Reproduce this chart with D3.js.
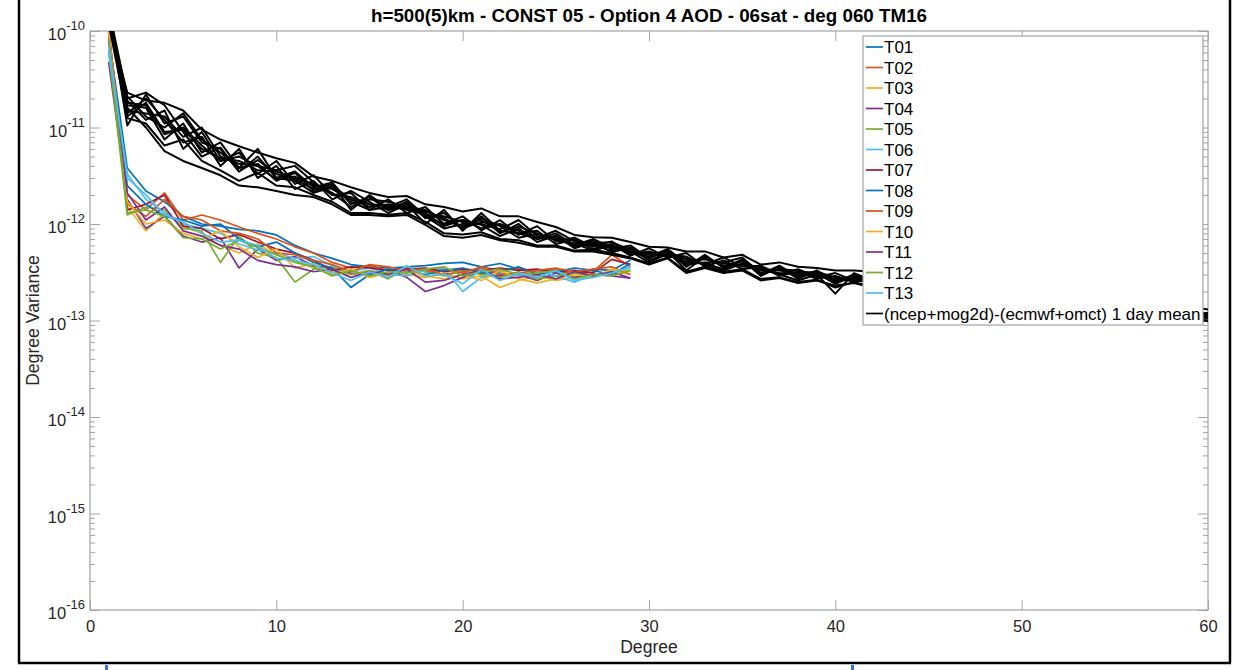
<!DOCTYPE html>
<html><head><meta charset="utf-8">
<script src="https://cdn.jsdelivr.net/npm/d3@7"></script>
<style>
html,body{margin:0;padding:0;background:#fff;}
svg{display:block;font-family:"Liberation Sans",Arial,Helvetica,sans-serif;}
</style></head><body>
<svg id="chart" width="1256" height="670"></svg>
<script>
// ---------------- DATA ----------------
const titleText = "h=500(5)km - CONST 05 - Option 4 AOD - 06sat - deg 060 TM16";
const xLabel = "Degree";
const yLabel = "Degree Variance";
const xTickValues = [0, 10, 20, 30, 40, 50, 60];
const yTickValues = [1e-16, 1e-15, 1e-14, 1e-13, 1e-12, 1e-11, 1e-10];
const yTickExponents = ["-16", "-15", "-14", "-13", "-12", "-11", "-10"];
const legendLabels = ["T01","T02","T03","T04","T05","T06","T07","T08","T09","T10","T11","T12","T13","(ncep+mog2d)-(ecmwf+omct) 1 day mean"];
const seriesColors = ["#0072BD","#D95319","#EDB120","#7E2F8E","#77AC30","#4DBEEE","#A2142F","#0072BD","#D95319","#EDB120","#7E2F8E","#77AC30","#4DBEEE"];
const meanColor = "#000000";

// Degree variances, degrees 1..29 (T series)
const T01 = [900e-13,38e-13,22e-13,17e-13,12e-13,10e-13,9.5e-13,8.8e-13,8.5e-13,7.7e-13,6.0e-13,5.0e-13,4.4e-13,3.8e-13,3.6e-13,3.5e-13,3.6e-13,3.7e-13,3.9e-13,4.0e-13,3.6e-13,3.9e-13,3.4e-13,3.2e-13,3.3e-13,3.0e-13,3.4e-13,3.3e-13,4.2e-13];
const T02 = [1050e-13,20e-13,14e-13,21e-13,11e-13,12.4e-13,11e-13,9.3e-13,8.0e-13,7.0e-13,5.8e-13,5.0e-13,4.0e-13,3.5e-13,3.7e-13,3.3e-13,3.5e-13,3.2e-13,3.4e-13,3.1e-13,3.6e-13,3.3e-13,3.5e-13,3.2e-13,3.4e-13,3.0e-13,3.2e-13,4.8e-13,3.6e-13];
const T03 = [1000e-13,15e-13,8.5e-13,13e-13,9.5e-13,8.0e-13,6.0e-13,5.0e-13,6.2e-13,4.8e-13,4.2e-13,3.5e-13,3.2e-13,3.0e-13,3.3e-13,2.9e-13,3.0e-13,2.8e-13,3.1e-13,2.7e-13,2.9e-13,2.2e-13,2.6e-13,2.9e-13,2.6e-13,2.8e-13,2.9e-13,3.3e-13,3.0e-13];
const T04 = [480e-13,18e-13,9.0e-13,12e-13,7.5e-13,6.5e-13,7.2e-13,3.5e-13,5.5e-13,4.2e-13,4.6e-13,3.7e-13,3.5e-13,3.1e-13,3.0e-13,3.4e-13,2.8e-13,2.0e-13,2.3e-13,2.8e-13,3.2e-13,2.9e-13,3.0e-13,2.6e-13,3.1e-13,2.8e-13,3.0e-13,2.9e-13,2.75e-13];
const T05 = [630e-13,12.4e-13,15e-13,14e-13,9.0e-13,8.5e-13,4.0e-13,7.5e-13,5.0e-13,4.5e-13,2.5e-13,3.4e-13,3.6e-13,3.0e-13,3.3e-13,2.7e-13,3.6e-13,3.2e-13,2.9e-13,3.3e-13,3.0e-13,2.8e-13,3.2e-13,2.7e-13,2.9e-13,3.1e-13,2.9e-13,3.2e-13,3.3e-13];
const T06 = [600e-13,33e-13,18e-13,13e-13,10e-13,9.0e-13,8.0e-13,6.2e-13,5.4e-13,5.0e-13,4.4e-13,4.6e-13,3.7e-13,3.2e-13,3.5e-13,3.0e-13,2.9e-13,3.3e-13,3.5e-13,2.0e-13,2.8e-13,3.1e-13,2.9e-13,3.2e-13,2.9e-13,2.5e-13,3.0e-13,3.2e-13,3.5e-13];
const T07 = [950e-13,14e-13,16e-13,20e-13,9.5e-13,9.0e-13,7.0e-13,7.8e-13,6.5e-13,5.5e-13,5.0e-13,4.2e-13,3.3e-13,3.6e-13,3.5e-13,3.3e-13,3.4e-13,3.5e-13,3.2e-13,3.4e-13,3.3e-13,3.5e-13,3.3e-13,3.4e-13,3.2e-13,3.3e-13,3.1e-13,4.3e-13,3.8e-13];
const T08 = [850e-13,25e-13,16e-13,12e-13,11e-13,9.5e-13,10e-13,7.0e-13,5.8e-13,6.5e-13,5.0e-13,4.0e-13,3.5e-13,2.2e-13,3.0e-13,3.4e-13,3.2e-13,3.0e-13,3.3e-13,3.5e-13,3.1e-13,3.2e-13,3.6e-13,3.0e-13,3.2e-13,3.5e-13,3.3e-13,3.0e-13,3.9e-13];
const T09 = [1100e-13,16e-13,12e-13,18e-13,12e-13,11e-13,8.5e-13,8.0e-13,7.0e-13,5.0e-13,4.8e-13,4.2e-13,3.8e-13,3.2e-13,3.8e-13,3.6e-13,3.3e-13,3.4e-13,3.0e-13,3.2e-13,3.5e-13,3.0e-13,3.1e-13,3.3e-13,3.5e-13,3.2e-13,3.4e-13,3.6e-13,3.0e-13];
const T10 = [980e-13,17e-13,10e-13,11e-13,8.0e-13,7.0e-13,8.5e-13,5.8e-13,4.5e-13,5.5e-13,3.5e-13,3.9e-13,3.0e-13,3.4e-13,2.8e-13,3.1e-13,3.3e-13,2.9e-13,2.7e-13,3.0e-13,2.6e-13,3.3e-13,2.7e-13,2.45e-13,2.7e-13,3.0e-13,2.8e-13,3.4e-13,3.2e-13];
const T11 = [800e-13,21e-13,11e-13,15e-13,8.5e-13,7.5e-13,6.0e-13,5.5e-13,4.2e-13,3.8e-13,3.6e-13,3.2e-13,3.4e-13,2.8e-13,3.2e-13,3.0e-13,3.4e-13,2.5e-13,2.6e-13,3.0e-13,3.3e-13,2.7e-13,2.8e-13,3.0e-13,2.7e-13,3.2e-13,2.9e-13,3.2e-13,2.75e-13];
const T12 = [820e-13,13e-13,14e-13,12e-13,7.2e-13,7.0e-13,5.5e-13,6.8e-13,5.7e-13,4.8e-13,4.0e-13,3.6e-13,2.9e-13,3.3e-13,2.9e-13,3.2e-13,3.1e-13,3.4e-13,3.6e-13,2.9e-13,3.2e-13,3.4e-13,3.0e-13,3.1e-13,3.3e-13,2.7e-13,3.0e-13,2.9e-13,3.3e-13];
const T13 = [700e-13,30e-13,20e-13,12.5e-13,10.5e-13,8.0e-13,6.5e-13,6.8e-13,6.0e-13,4.4e-13,4.2e-13,3.8e-13,3.1e-13,2.6e-13,3.2e-13,2.8e-13,3.7e-13,2.9e-13,3.0e-13,2.4e-13,3.4e-13,2.6e-13,3.1e-13,2.8e-13,3.3e-13,2.6e-13,2.8e-13,3.1e-13,3.6e-13];

// (ncep+mog2d)-(ecmwf+omct) 1 day mean, degrees 1..60
const M01 = [1400e-13,190e-13,120e-13,150e-13,60e-13,90e-13,45e-13,55e-13,33e-13,45e-13,26e-13,32e-13,20e-13,21e-13,14e-13,18e-13,13e-13,15e-13,10e-13,12e-13,8.6e-13,11e-13,7.7e-13,9.5e-13,6.6e-13,7.2e-13,5.8e-13,6.6e-13,4.8e-13,5.2e-13,4.6e-13,4.4e-13,3.8e-13,4.5e-13,3.6e-13,3.7e-13,3.0e-13,3.4e-13,2.8e-13,3.1e-13,2.6e-13,2.9e-13,2.7e-13,2.4e-13,2.5e-13,2.2e-13,2.3e-13,2.0e-13,2.1e-13,1.8e-13,1.85e-13,1.65e-13,1.7e-13,1.45e-13,1.5e-13,1.35e-13,1.4e-13,1.2e-13,1.3e-13,1.15e-13];
const M02 = [1600e-13,105e-13,220e-13,110e-13,130e-13,70e-13,60e-13,35e-13,50e-13,30e-13,35e-13,24e-13,27e-13,16e-13,19e-13,14e-13,17e-13,11.5e-13,13e-13,9.0e-13,12e-13,8.0e-13,10e-13,7.0e-13,8.0e-13,6.0e-13,6.8e-13,5.5e-13,6.0e-13,4.4e-13,5.4e-13,3.6e-13,4.8e-13,3.5e-13,4.3e-13,2.9e-13,3.6e-13,2.7e-13,3.3e-13,2.5e-13,3.0e-13,2.5e-13,2.6e-13,2.3e-13,2.4e-13,2.2e-13,2.1e-13,2.15e-13,1.9e-13,1.95e-13,1.75e-13,1.7e-13,1.55e-13,1.6e-13,1.4e-13,1.45e-13,1.3e-13,1.3e-13,1.2e-13,1.1e-13];
const M03 = [1300e-13,170e-13,160e-13,75e-13,110e-13,55e-13,70e-13,38e-13,42e-13,28e-13,34e-13,22e-13,25e-13,18e-13,15e-13,16e-13,14.5e-13,13e-13,9.5e-13,11e-13,9.8e-13,7.5e-13,9.0e-13,6.5e-13,7.6e-13,5.6e-13,6.5e-13,5.1e-13,5.7e-13,4.2e-13,5.0e-13,4.3e-13,3.9e-13,3.4e-13,4.2e-13,3.0e-13,3.5e-13,2.9e-13,3.1e-13,2.4e-13,2.9e-13,2.4e-13,2.5e-13,2.45e-13,2.3e-13,2.35e-13,2.1e-13,2.05e-13,1.95e-13,1.85e-13,1.8e-13,1.7e-13,1.6e-13,1.55e-13,1.45e-13,1.4e-13,1.35e-13,1.25e-13,1.25e-13,1.15e-13];
const M04 = [1500e-13,140e-13,200e-13,120e-13,70e-13,80e-13,40e-13,60e-13,30e-13,40e-13,23e-13,28e-13,18e-13,22e-13,17e-13,13e-13,16e-13,10e-13,14e-13,8.5e-13,13e-13,8.5e-13,8.0e-13,8.5e-13,6.2e-13,6.9e-13,5.5e-13,6.2e-13,4.7e-13,5.6e-13,4.5e-13,5.0e-13,3.6e-13,4.2e-13,3.4e-13,3.6e-13,2.9e-13,3.2e-13,2.7e-13,2.9e-13,2.5e-13,2.8e-13,2.4e-13,2.6e-13,2.2e-13,2.4e-13,2.0e-13,2.2e-13,1.85e-13,2.0e-13,1.7e-13,1.8e-13,1.55e-13,1.65e-13,1.4e-13,1.5e-13,1.3e-13,1.35e-13,1.15e-13,1.2e-13];
const M05 = [1200e-13,130e-13,180e-13,90e-13,95e-13,60e-13,48e-13,45e-13,36e-13,35e-13,30e-13,26e-13,21e-13,15e-13,18e-13,17e-13,15e-13,14e-13,11e-13,9.5e-13,11.5e-13,9.5e-13,7.2e-13,7.9e-13,7.0e-13,6.3e-13,5.3e-13,6.0e-13,5.0e-13,4.6e-13,5.5e-13,3.9e-13,4.5e-13,3.7e-13,3.8e-13,3.3e-13,3.1e-13,3.0e-13,2.9e-13,2.7e-13,2.7e-13,2.6e-13,2.65e-13,2.5e-13,2.35e-13,2.3e-13,2.25e-13,2.1e-13,2.0e-13,1.9e-13,1.85e-13,1.75e-13,1.65e-13,1.55e-13,1.5e-13,1.4e-13,1.35e-13,1.3e-13,1.2e-13,1.15e-13];
const M06 = [1700e-13,210e-13,130e-13,100e-13,140e-13,75e-13,55e-13,38e-13,60e-13,30e-13,28e-13,21e-13,24e-13,17e-13,14e-13,15e-13,18e-13,12e-13,10e-13,11e-13,9.0e-13,10e-13,8.5e-13,7.2e-13,8.5e-13,6.6e-13,6.0e-13,5.3e-13,5.5e-13,4.8e-13,4.7e-13,4.1e-13,4.3e-13,3.9e-13,3.7e-13,3.4e-13,3.3e-13,3.1e-13,3.2e-13,2.6e-13,2.8e-13,2.7e-13,2.5e-13,2.55e-13,2.4e-13,2.25e-13,2.3e-13,2.1e-13,2.0e-13,1.95e-13,1.8e-13,1.7e-13,1.65e-13,1.5e-13,1.5e-13,1.4e-13,1.3e-13,1.3e-13,1.2e-13,1.1e-13];
const M07 = [1450e-13,150e-13,140e-13,130e-13,80e-13,100e-13,50e-13,42e-13,40e-13,36e-13,40e-13,27e-13,20e-13,19e-13,16e-13,15.5e-13,14e-13,12.5e-13,12e-13,10.5e-13,10e-13,8.8e-13,11e-13,7.5e-13,7.0e-13,6.0e-13,7.0e-13,5.7e-13,5.2e-13,4.0e-13,4.9e-13,3.8e-13,4.0e-13,4.0e-13,4.5e-13,3.1e-13,3.4e-13,3.3e-13,3.0e-13,1.9e-13,3.1e-13,2.6e-13,2.7e-13,2.5e-13,2.45e-13,2.3e-13,2.2e-13,2.15e-13,2.05e-13,1.9e-13,1.85e-13,1.7e-13,1.6e-13,1.6e-13,1.45e-13,1.4e-13,1.35e-13,1.25e-13,1.2e-13,1.1e-13];
const M08 = [1350e-13,200e-13,230e-13,170e-13,90e-13,50e-13,62e-13,35e-13,46e-13,33e-13,29e-13,23e-13,26e-13,14e-13,20e-13,14.5e-13,16.5e-13,12e-13,9.0e-13,10e-13,11e-13,8.3e-13,9.4e-13,8.0e-13,6.8e-13,6.2e-13,6.3e-13,6.5e-13,5.4e-13,4.5e-13,5.2e-13,3.3e-13,4.6e-13,3.6e-13,4.1e-13,3.0e-13,3.7e-13,2.8e-13,3.2e-13,2.8e-13,2.7e-13,2.9e-13,2.55e-13,2.45e-13,2.5e-13,2.25e-13,2.2e-13,2.2e-13,1.95e-13,1.95e-13,1.8e-13,1.75e-13,1.6e-13,1.6e-13,1.45e-13,1.45e-13,1.3e-13,1.3e-13,1.2e-13,1.15e-13];
const M09 = [1550e-13,125e-13,110e-13,65e-13,75e-13,45e-13,36e-13,28e-13,34e-13,25e-13,24e-13,20e-13,17e-13,13e-13,13e-13,12.5e-13,13e-13,10.5e-13,8.0e-13,7.8e-13,8.2e-13,7.0e-13,6.8e-13,6.0e-13,6.0e-13,5.3e-13,5.4e-13,5.0e-13,4.5e-13,3.9e-13,4.5e-13,3.2e-13,3.6e-13,3.2e-13,3.4e-13,2.7e-13,2.8e-13,2.5e-13,2.65e-13,2.2e-13,2.5e-13,2.25e-13,2.2e-13,2.15e-13,2.05e-13,2.0e-13,1.9e-13,1.85e-13,1.8e-13,1.7e-13,1.65e-13,1.55e-13,1.5e-13,1.4e-13,1.35e-13,1.3e-13,1.2e-13,1.15e-13,1.05e-13,1.0e-13];
const M10 = [1250e-13,230e-13,190e-13,180e-13,150e-13,95e-13,75e-13,64e-13,55e-13,48e-13,43e-13,31e-13,28e-13,24e-13,21e-13,19e-13,19.5e-13,16e-13,15e-13,13.5e-13,14.5e-13,12e-13,12e-13,10.5e-13,9.3e-13,7.7e-13,7.3e-13,7.2e-13,6.5e-13,5.8e-13,5.7e-13,5.2e-13,5.2e-13,4.5e-13,4.8e-13,3.8e-13,4.0e-13,3.6e-13,3.5e-13,3.3e-13,3.3e-13,3.2e-13,3.1e-13,2.95e-13,2.85e-13,2.7e-13,2.6e-13,2.5e-13,2.4e-13,2.3e-13,2.2e-13,2.1e-13,2.0e-13,1.9e-13,1.8e-13,1.7e-13,1.6e-13,1.5e-13,1.4e-13,1.3e-13];
const M11 = [1650e-13,180e-13,170e-13,85e-13,100e-13,65e-13,45e-13,50e-13,40e-13,29e-13,31e-13,25e-13,23e-13,18e-13,16e-13,14e-13,15e-13,13.5e-13,11.5e-13,9.0e-13,10.5e-13,9.8e-13,8.0e-13,7.0e-13,7.4e-13,5.8e-13,6.1e-13,5.9e-13,5.1e-13,5.0e-13,4.8e-13,4.6e-13,3.7e-13,3.3e-13,3.9e-13,3.5e-13,3.0e-13,2.6e-13,3.0e-13,2.65e-13,2.6e-13,2.5e-13,2.45e-13,2.4e-13,2.3e-13,2.2e-13,2.15e-13,2.05e-13,1.95e-13,1.85e-13,1.75e-13,1.7e-13,1.6e-13,1.5e-13,1.45e-13,1.35e-13,1.3e-13,1.2e-13,1.15e-13,1.05e-13];
const M12 = [1500e-13,160e-13,100e-13,57e-13,45e-13,38e-13,32e-13,25e-13,24e-13,22e-13,20e-13,19e-13,16e-13,12.4e-13,12.4e-13,12e-13,12.4e-13,9.8e-13,7.5e-13,7.2e-13,7.7e-13,6.8e-13,6.4e-13,5.8e-13,5.8e-13,5.2e-13,5.2e-13,4.8e-13,4.4e-13,3.8e-13,4.4e-13,3.1e-13,3.5e-13,3.1e-13,3.3e-13,2.6e-13,2.75e-13,2.45e-13,2.6e-13,2.3e-13,2.45e-13,2.2e-13,2.15e-13,2.1e-13,2.0e-13,1.95e-13,1.85e-13,1.8e-13,1.75e-13,1.65e-13,1.6e-13,1.5e-13,1.45e-13,1.4e-13,1.3e-13,1.25e-13,1.2e-13,1.1e-13,1.05e-13,0.98e-13];

const tSeries = [T01,T02,T03,T04,T05,T06,T07,T08,T09,T10,T11,T12,T13];
const meanSeries = [M01,M02,M03,M04,M05,M06,M07,M08,M09,M10,M11,M12];

// ---------------- CHART ----------------
const W = 1256, H = 670;
const plot = {left: 90, right: 1208, top: 31, bottom: 610};
const axisColor = "#a3a3a3";
const textColor = "#262626";

const svg = d3.select("#chart");
svg.append("rect").attr("width", W).attr("height", H).attr("fill", "#fff");

const x = d3.scaleLinear().domain([0, 60]).range([plot.left, plot.right]);
const y = d3.scaleLog().domain([1e-16, 1e-10]).range([plot.bottom, plot.top]);

svg.append("defs").append("clipPath").attr("id", "plotclip")
  .append("rect").attr("x", plot.left).attr("y", plot.top)
  .attr("width", plot.right - plot.left).attr("height", plot.bottom - plot.top);

// minor tick values (2..9 within each decade)
const minorTicks = [];
for (let e = -16; e < -10; e++) for (let m = 2; m <= 9; m++) minorTicks.push(m * Math.pow(10, e));

function styleAxis(g) {
  g.select(".domain").remove();
  g.selectAll(".tick line").attr("stroke", axisColor).attr("stroke-width", 1);
  g.selectAll(".tick text").attr("fill", textColor).attr("font-size", 16.5)
    .attr("font-family", "'Liberation Sans', Arial, sans-serif");
}

// bottom axis
svg.append("g").attr("transform", `translate(0,${plot.bottom})`)
  .call(d3.axisBottom(x).tickValues(xTickValues).tickSizeInner(-10).tickSizeOuter(0).tickPadding(10.5).tickFormat(d3.format("d")))
  .call(styleAxis);
// top axis
svg.append("g").attr("transform", `translate(0,${plot.top})`)
  .call(d3.axisTop(x).tickValues(xTickValues).tickSizeInner(-10).tickSizeOuter(0).tickFormat(""))
  .call(styleAxis);
// left axis major/minor
svg.append("g").attr("transform", `translate(${plot.left},0)`)
  .call(d3.axisLeft(y).tickValues(yTickValues).tickSizeInner(-10).tickSizeOuter(0).tickFormat(""))
  .call(styleAxis);
svg.append("g").attr("transform", `translate(${plot.left},0)`)
  .call(d3.axisLeft(y).tickValues(minorTicks).tickSizeInner(-5).tickSizeOuter(0).tickFormat(""))
  .call(styleAxis);
// right axis major/minor
svg.append("g").attr("transform", `translate(${plot.right},0)`)
  .call(d3.axisRight(y).tickValues(yTickValues).tickSizeInner(-10).tickSizeOuter(0).tickFormat(""))
  .call(styleAxis);
svg.append("g").attr("transform", `translate(${plot.right},0)`)
  .call(d3.axisRight(y).tickValues(minorTicks).tickSizeInner(-5).tickSizeOuter(0).tickFormat(""))
  .call(styleAxis);

// y tick labels 10^e
const yl = svg.append("g").attr("fill", textColor).attr("font-size", 16.5);
yTickValues.forEach((v, i) => {
  const t = yl.append("text").attr("x", plot.left - 5).attr("y", y(v) + 9).attr("text-anchor", "end");
  t.append("tspan").text("10");
  t.append("tspan").attr("dy", -10).attr("font-size", 13).text(yTickExponents[i]);
});

// box
svg.append("rect").attr("x", plot.left).attr("y", plot.top)
  .attr("width", plot.right - plot.left).attr("height", plot.bottom - plot.top)
  .attr("fill", "none").attr("stroke", axisColor).attr("stroke-width", 1.2);

// lines
const line = d3.line().x((d, i) => x(i + 1)).y(d => y(d));
const lg = svg.append("g").attr("clip-path", "url(#plotclip)").attr("fill", "none")
  .attr("stroke-linejoin", "round");
tSeries.forEach((s, i) => {
  lg.append("path").datum(s).attr("d", line).attr("stroke", seriesColors[i]).attr("stroke-width", 1.7);
});
meanSeries.forEach(s => {
  lg.append("path").datum(s).attr("d", line).attr("stroke", meanColor).attr("stroke-width", 2);
});

// axis labels & title
svg.append("text").attr("x", (plot.left + plot.right) / 2).attr("y", 653)
  .attr("text-anchor", "middle").attr("font-size", 17.6).attr("fill", textColor).text(xLabel);
svg.append("text").attr("transform", `translate(39,${(plot.top + plot.bottom) / 2}) rotate(-90)`)
  .attr("text-anchor", "middle").attr("font-size", 17.6).attr("fill", textColor).text(yLabel);
svg.append("text").attr("x", (plot.left + plot.right) / 2).attr("y", 22)
  .attr("text-anchor", "middle").attr("font-size", 18.8).attr("font-weight", "bold").attr("fill", "#000").text(titleText);

// legend
const leg = {x: 863, y: 36, w: 340, h: 289, row0: 47, rowH: 20.5};
const lgd = svg.append("g");
lgd.append("rect").attr("x", leg.x).attr("y", leg.y).attr("width", leg.w).attr("height", leg.h)
  .attr("fill", "#fff").attr("stroke", axisColor).attr("stroke-width", 1.2);
legendLabels.forEach((lab, i) => {
  const yy = leg.row0 + i * leg.rowH;
  const col = i < seriesColors.length ? seriesColors[i] : meanColor;
  lgd.append("line").attr("x1", 866).attr("x2", 883).attr("y1", yy).attr("y2", yy)
    .attr("stroke", col).attr("stroke-width", 1.7);
  lgd.append("text").attr("x", 884).attr("y", yy + 6).attr("font-size", 17).attr("fill", "#000").text(lab);
});

// outer frame (screenshot border) and marks
const frame = svg.append("g").attr("stroke", "#000").attr("stroke-width", 2.5);
frame.append("line").attr("x1", 19).attr("x2", 19).attr("y1", 0).attr("y2", 663);
frame.append("line").attr("x1", 1230).attr("x2", 1230).attr("y1", 0).attr("y2", 663);
frame.append("line").attr("x1", 18).attr("x2", 1231).attr("y1", 663).attr("y2", 663);
svg.append("rect").attr("x", 105).attr("y", 665).attr("width", 3).attr("height", 5).attr("fill", "#3b6fd6");
svg.append("rect").attr("x", 851).attr("y", 665).attr("width", 3).attr("height", 5).attr("fill", "#3b6fd6");
</script>
</body></html>
